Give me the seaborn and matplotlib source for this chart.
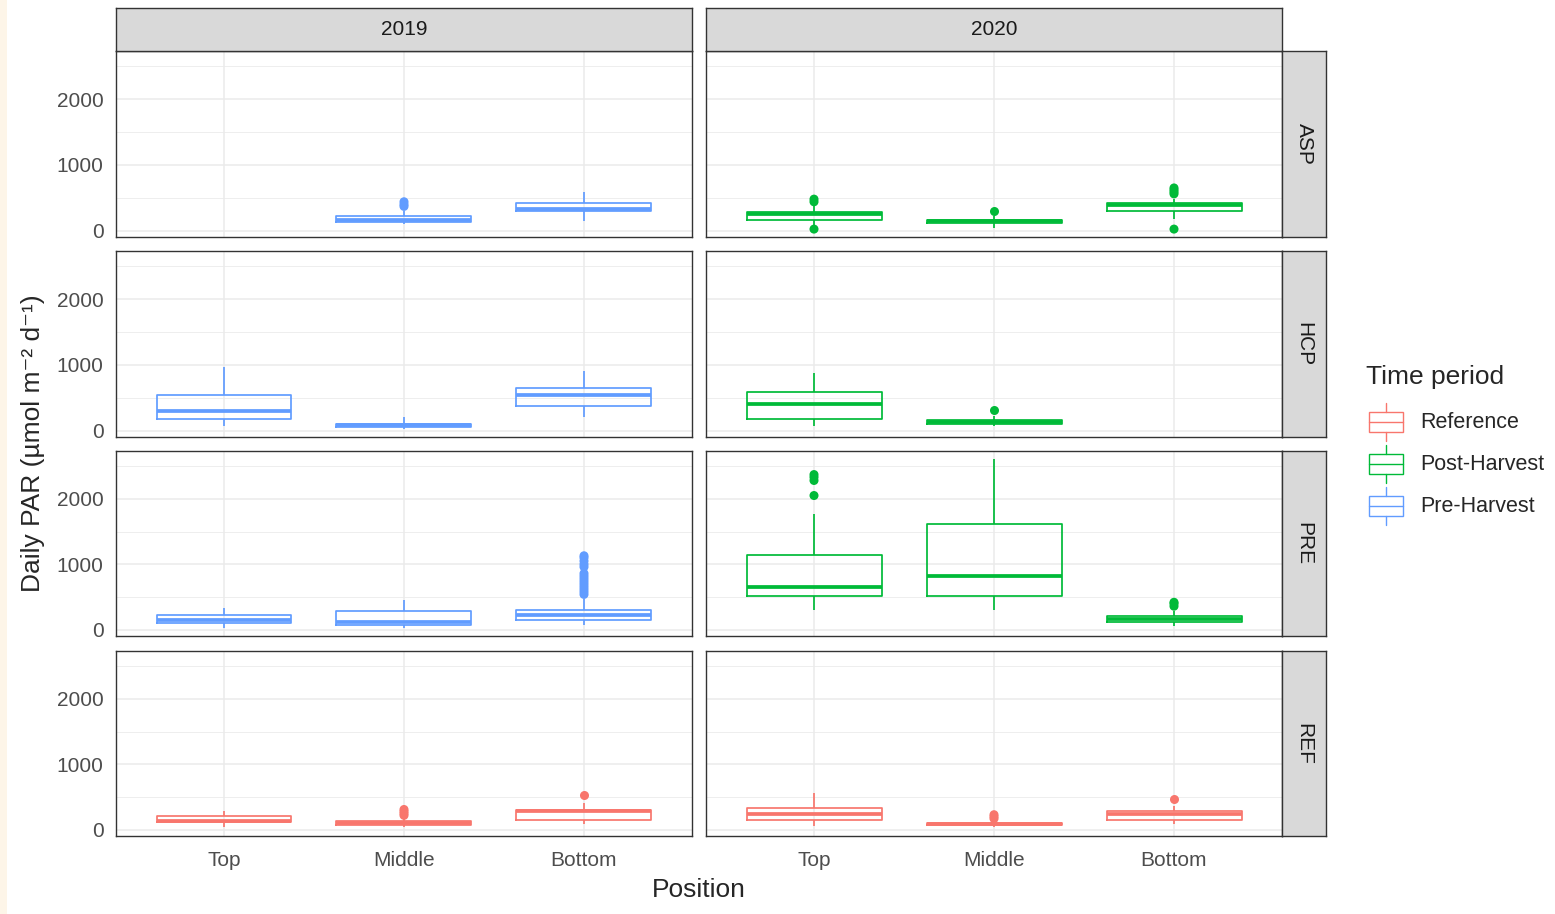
import numpy as np
import pandas as pd
import matplotlib
matplotlib.use('Agg')
import matplotlib.pyplot as plt
import seaborn as sns

regions = ['ASP', 'HCP', 'PRE', 'REF']
years = ['2019', '2020']
positions = ['Top', 'Middle', 'Bottom']
periods = ['Reference', 'Post-Harvest', 'Pre-Harvest']
period_colors = ['#F8766D', '#00BA38', '#619CFF']

# one entry per box (five-number summary)
box_region = ['ASP', 'ASP', 'ASP', 'ASP', 'ASP',
              'HCP', 'HCP', 'HCP', 'HCP', 'HCP',
              'PRE', 'PRE', 'PRE', 'PRE', 'PRE', 'PRE',
              'REF', 'REF', 'REF', 'REF', 'REF', 'REF']
box_year = ['2019', '2019', '2020', '2020', '2020',
            '2019', '2019', '2019', '2020', '2020',
            '2019', '2019', '2019', '2020', '2020', '2020',
            '2019', '2019', '2019', '2020', '2020', '2020']
box_position = ['Middle', 'Bottom', 'Top', 'Middle', 'Bottom',
                'Top', 'Middle', 'Bottom', 'Top', 'Middle',
                'Top', 'Middle', 'Bottom', 'Top', 'Middle', 'Bottom',
                'Top', 'Middle', 'Bottom', 'Top', 'Middle', 'Bottom']
box_period = ['Pre-Harvest', 'Pre-Harvest', 'Post-Harvest', 'Post-Harvest', 'Post-Harvest',
              'Pre-Harvest', 'Pre-Harvest', 'Pre-Harvest', 'Post-Harvest', 'Post-Harvest',
              'Pre-Harvest', 'Pre-Harvest', 'Pre-Harvest', 'Post-Harvest', 'Post-Harvest', 'Post-Harvest',
              'Reference', 'Reference', 'Reference', 'Reference', 'Reference', 'Reference']
box_low = [100, 152, 76, 41, 178,
           67, 25, 205, 67, 67,
           26, 26, 67, 297, 297, 62,
           36, 36, 86, 61, 36, 86]
box_q1 = [135, 300, 160, 118, 300,
          185, 50, 379, 185, 105,
          100, 80, 150, 518, 518, 125,
          115, 70, 150, 155, 66, 150]
box_median = [168, 335, 250, 142, 390,
              297, 80, 549, 410, 135,
              150, 118, 231, 646, 820, 169,
              135, 102, 284, 238, 86, 240]
box_q3 = [230, 415, 280, 165, 420,
          538, 110, 646, 590, 165,
          220, 282, 305, 1144, 1615, 212,
          205, 132, 305, 325, 100, 280]
box_high = [305, 584, 380, 228, 480,
            964, 205, 908, 872, 231,
            333, 451, 470, 1769, 2605, 280,
            289, 178, 416, 569, 137, 365]
box_outliers = [[370, 400, 440], [], [25, 440, 480], [305], [25, 560, 590, 620, 650],
                [], [], [], [], [308],
                [], [], [540, 580, 620, 660, 700, 740, 780, 820, 860, 960, 1000, 1050, 1100, 1130],
                [2050, 2280, 2330, 2370], [], [360, 400, 420],
                [], [220, 250, 280, 310], [528], [], [170, 200, 230], [467]]

pal = dict(zip(periods, period_colors))

rows, out_rows = [], []
for i in range(len(box_region)):
    key = (box_region[i], box_year[i], box_position[i], box_period[i])
    for v in (box_low[i], box_q1[i], box_median[i], box_q3[i], box_high[i]):
        rows.append(key + (v,))
    for v in box_outliers[i]:
        out_rows.append(key + (v,))
cols = ['Region', 'Year', 'Position', 'Time period', 'PAR']
df = pd.DataFrame(rows, columns=cols)
out = pd.DataFrame(out_rows, columns=cols)

sns.set_theme(style='white')
plt.rcParams['font.family'] = ['Liberation Sans', 'DejaVu Sans']

W, H = 1555, 914
fig = plt.figure(figsize=(W / 100, H / 100), dpi=100)
fig.patch.set_facecolor('white')


def rect(x0, y0, x1, y1):
    return [x0 / W, 1 - y1 / H, (x1 - x0) / W, (y1 - y0) / H]


col_x = [(116, 692), (706, 1282)]
row_y = [(51, 237), (251, 437), (451, 636), (651, 836)]

for r, reg in enumerate(regions):
    for c, yr in enumerate(years):
        ax = fig.add_axes(rect(col_x[c][0], row_y[r][0], col_x[c][1], row_y[r][1]))
        sub = df[(df.Region == reg) & (df.Year == yr)]
        sns.boxplot(data=sub, x='Position', y='PAR', hue='Time period', order=positions,
                    hue_order=periods, palette=pal, dodge=False, fill=False, width=0.75,
                    whis=(0, 100), showfliers=False, showcaps=False, linewidth=1.25,
                    medianprops={'linewidth': 2.7}, legend=False, ax=ax)
        osub = out[(out.Region == reg) & (out.Year == yr)]
        if len(osub):
            sns.stripplot(data=osub, x='Position', y='PAR', hue='Time period', order=positions,
                          hue_order=periods, palette=pal, jitter=False, dodge=False, size=6.5,
                          linewidth=0, legend=False, ax=ax)
        ax.set_xlim(-0.6, 2.6)
        ax.set_ylim(-95, 2730)
        ax.set_yticks([0, 1000, 2000])
        ax.set_yticks([500, 1500, 2500], minor=True)
        ax.set_facecolor('white')
        ax.grid(True, which='major', color='#EBEBEB', linewidth=1.1)
        ax.grid(True, which='minor', axis='y', color='#EBEBEB', linewidth=0.6)
        ax.set_axisbelow(True)
        for s in ax.spines.values():
            s.set_visible(True)
            s.set_color('#333333')
            s.set_linewidth(1.0)
        ax.set_xlabel('')
        ax.set_ylabel('')
        ax.tick_params(which='minor', length=0)
        ax.tick_params(axis='both', which='major', colors='#333333', labelcolor='#4D4D4D',
                       labelsize=15, length=5, width=1, pad=4)
        ax.tick_params(axis='x', pad=6)
        if r < len(regions) - 1:
            ax.tick_params(axis='x', length=0, labelbottom=False)
        if c > 0:
            ax.tick_params(axis='y', length=0, labelleft=False)


def strip(sax, label, rot):
    sax.set_facecolor('#D9D9D9')
    sax.set_xticks([])
    sax.set_yticks([])
    for s in sax.spines.values():
        s.set_visible(True)
        s.set_color('#333333')
        s.set_linewidth(1.0)
    sax.text(0.5, 0.5, label, rotation=rot, ha='center', va='center', fontsize=15,
             color='#1A1A1A', transform=sax.transAxes)


for c, yr in enumerate(years):
    strip(fig.add_axes(rect(col_x[c][0], 8, col_x[c][1], 51)), yr, 0)
for r, reg in enumerate(regions):
    strip(fig.add_axes(rect(1282, row_y[r][0], 1326, row_y[r][1])), reg, -90)

# overlay in pixel units for titles and legend
lax = fig.add_axes([0, 0, 1, 1], zorder=-1)
lax.set_xlim(0, W)
lax.set_ylim(H, 0)
lax.axis('off')
lax.add_patch(plt.Rectangle((0, 0), 7, H, facecolor='#FDF5E8', edgecolor='none'))

fig.text(699 / W, 1 - 890 / H, 'Position', ha='center', va='center', fontsize=19)
fig.text(33 / W, 1 - 443 / H, 'Daily PAR (µmol m⁻² d⁻¹)', ha='center', va='center',
         rotation=90, fontsize=19)

lg = fig.add_axes([0, 0, 1, 1])
lg.set_xlim(0, W)
lg.set_ylim(H, 0)
lg.axis('off')
lg.text(1366, 377, 'Time period', ha='left', va='center', fontsize=19)
for i, (p, col) in enumerate(zip(periods, period_colors)):
    cy = 422 + 42 * i
    lg.add_patch(plt.Rectangle((1369, cy - 10), 34, 20, facecolor='white', edgecolor=col, linewidth=1.0))
    lg.plot([1369, 1403], [cy, cy], color=col, linewidth=1.0)
    lg.plot([1386, 1386], [cy - 19, cy - 10], color=col, linewidth=1.0)
    lg.plot([1386, 1386], [cy + 10, cy + 19], color=col, linewidth=1.0)
    lg.text(1420, cy + 1, p, ha='left', va='center', fontsize=15.5)

fig.savefig('out.png', dpi=100)
